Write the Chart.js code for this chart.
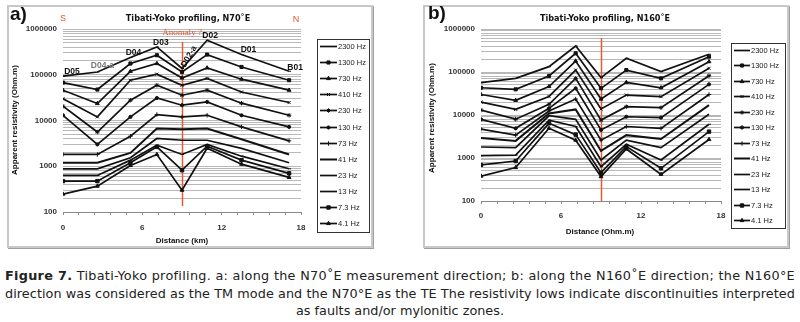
<!DOCTYPE html>
<html>
<head>
<meta charset="utf-8">
<script src="https://cdn.jsdelivr.net/npm/chart.js@4.4.1/dist/chart.umd.min.js"></script>
<style>
  body { margin: 0; width: 800px; height: 322px; background: #fff; position: relative; overflow: hidden; }
  .frame { position: absolute; top: 5px; width: 362px; height: 239px; border: 2px solid #c8c8c8; box-shadow: 1px 1px 0 #a0a0a0; background: #fff; }
  #frameA { left: 7px; }
  #frameB { left: 423px; }
  .frame canvas { position: absolute; left: 0; top: 0; }
  .txt { position: absolute; white-space: nowrap; color: #111; font-family: 'Liberation Sans', Arial, sans-serif; }
  .tag { font-weight: bold; font-size: 19px; line-height: 20px; }
  .title { font-weight: bold; font-size: 9px; line-height: 12px; text-align: center; width: 200px;
           font-family: 'Liberation Sans Narrow', 'DejaVu Sans Condensed', sans-serif; }
  .axt { font-weight: bold; font-size: 8px; line-height: 10px; text-align: center; width: 160px; }
  .rot { transform: rotate(-90deg); }
  #caption { position: absolute; left: 0; top: 267px; width: 800px; text-align: center; white-space: nowrap;
             font-family: 'DejaVu Sans', Verdana, sans-serif; font-size: 12.8px; line-height: 17.5px; color: #222; }
  #caption span { display: inline-block; }
</style>
</head>
<body>
<div class="frame" id="frameA"><canvas id="chartA" width="362" height="239"></canvas></div>
<div class="frame" id="frameB"><canvas id="chartB" width="362" height="239"></canvas></div>

<div class="txt tag" style="left:10px;top:4px">a)</div>
<div class="txt tag" style="left:428px;top:3px">b)</div>
<div class="txt title" style="left:88px;top:12px">Tibati-Yoko profiling, N70˚E</div>
<div class="txt title" style="left:505px;top:12px">Tibati-Yoko profiling, N160˚E</div>
<div class="txt axt rot" style="left:-65px;top:115px">Apparent resistivity (Ohm.m)</div>
<div class="txt axt rot" style="left:352px;top:113px">Apparent resistivity (Ohm.m)</div>
<div class="txt axt" style="left:102px;top:236px">Distance (km)</div>
<div class="txt axt" style="left:520px;top:227px">Distance (Ohm.m)</div>

<div id="caption"><span class="fit"><b>Figure 7.</b> Tibati-Yoko profiling. a: along the N70˚E measurement direction; b: along the N160˚E direction; the N160°E</span><br><span class="fit">direction was considered as the TM mode and the N70°E as the TE The resistivity lows indicate discontinuities interpreted</span><br><span>as faults and/or mylonitic zones.</span></div>

<script>
// station positions along the profile (km) and frequencies
const distKm = [0, 2.6, 5.1, 7.1, 9.0, 10.9, 13.5, 17.1];
const freqLabels = ['2300 Hz', '1300 Hz', '730 Hz', '410 Hz', '230 Hz', '130 Hz', '73 Hz', '41 Hz', '23 Hz', '13 Hz', '7.3 Hz', '4.1 Hz'];
const stationsA = ['D05', 'D04-a', 'D04', 'D03', 'D02-a', 'D02', 'D01', 'B01'];
const anomalyKm = 9.0;
const xTickLabels = [0, 6, 12, 18];
const yTickLabels = [100, 1000, 10000, 100000, 1000000];

// a) N70°E apparent resistivity (Ohm.m)
const a2300 = [93000, 115000, 238000, 405000, 137000, 567000, 276000, 119000];
const a1300 = [67500, 47500, 176000, 267000, 115000, 276000, 148000, 76000];
const a730 = [46000, 23500, 119000, 176000, 85000, 141000, 80000, 46000];
const a410 = [30000, 12000, 76000, 103000, 59000, 83000, 42000, 24700];
const a230 = [20500, 5600, 27800, 59000, 35700, 46000, 23900, 13000];
const a130 = [13000, 3000, 12000, 31000, 21600, 25500, 13000, 7250];
const a73 = [1810, 1810, 4540, 13500, 12000, 13000, 7250, 3590];
const a41 = [1190, 1190, 1960, 6700, 6460, 6700, 3900, 1810];
const a23 = [880, 880, 1530, 4050, 3700, 3700, 2450, 1190];
const a13 = [630, 630, 1360, 2890, 1810, 3000, 1660, 880];
const a7_3 = [473, 473, 1190, 2650, 820, 2750, 1360, 700];
const a4_1 = [246, 368, 1040, 1810, 300, 2480, 1110, 570];

// b) N160°E apparent resistivity (Ohm.m)
const b2300 = [56500, 71000, 133000, 403000, 74000, 208000, 102000, 258000];
const b1300 = [43000, 39500, 81000, 272000, 41700, 111000, 71000, 227000];
const b730 = [30000, 22000, 46000, 180000, 23500, 57500, 43000, 174000];
const b410 = [20000, 13500, 27000, 111000, 13800, 29000, 26700, 122000];
const b230 = [13000, 8000, 17700, 71000, 7600, 15600, 14800, 82000];
const b130 = [7900, 4900, 14300, 41700, 4500, 9100, 8700, 51600];
const b73 = [4700, 3400, 12400, 23500, 2600, 5400, 4900, 30000];
const b41 = [2900, 2500, 10900, 13500, 1460, 3400, 2770, 17000];
const b23 = [1800, 1740, 9600, 7900, 900, 2600, 1740, 10400];
const b13 = [1130, 1170, 7600, 5400, 630, 2080, 900, 6100];
const b7_3 = [690, 850, 6400, 3500, 455, 1840, 575, 4100];
const b4_1 = [380, 600, 4900, 2600, 370, 1620, 417, 2700];

// marker look per frequency (excel-ish defaults)
const markers = ['dash', 'rect', 'triangle', 'crossRot', 'star', 'circle', 'cross', false, false, 'dash', 'rect', 'triangle'];
const markerSize = [2, 2.2, 2.2, 2.2, 2.2, 1.6, 2.2, 0, 0, 2, 2.4, 2.2];

// log grid every 1..9 x 10^n, minor x ticks every 1.2 km
const yGrid = [];
for (let d = 100; d < 1e6; d *= 10) for (let m = 1; m < 10; m++) yGrid.push(m * d);
yGrid.push(1e6);
const xMinor = [];
for (let i = 0; i <= 15; i++) xMinor.push(Math.round(i * 12) / 10);

const tickFont = { family: "'Liberation Sans', Arial, sans-serif", size: 8, weight: 'bold' };

// stretch the two full caption lines to the page width like the original
document.querySelectorAll('#caption .fit').forEach(el => {
    const n = el.textContent.length;
    const w = el.getBoundingClientRect().width;
    el.style.letterSpacing = ((790 - w) / n).toFixed(3) + 'px';
});

function makeDatasets(series) {
    return series.map((vals, i) => ({
        label: freqLabels[i],
        data: vals.map((v, j) => ({ x: distKm[j], y: v })),
        borderColor: '#111',
        backgroundColor: '#111',
        borderWidth: i === 7 ? 2 : 1.7,
        pointStyle: markers[i],
        pointRadius: markerSize[i],
        pointBorderWidth: 1,
        tension: 0
    }));
}

function makeScales(yWidth, xHeight, xPad) {
    return {
        x: {
            type: 'linear', min: 0, max: 18,
            afterBuildTicks: s => { s.ticks = xMinor.map(v => ({ value: v })); },
            afterFit: s => { s.height = xHeight; },
            ticks: { autoSkip: false, maxRotation: 0, padding: xPad, font: tickFont, color: '#333',
                     callback: v => xTickLabels.includes(v) ? String(v) : '' },
            grid: { drawOnChartArea: false, drawTicks: true, tickLength: 3, color: '#8a8a8a' },
            border: { display: true, color: '#8a8a8a', width: 1 }
        },
        y: {
            type: 'logarithmic', min: 100, max: 1e6,
            afterBuildTicks: s => { s.ticks = yGrid.map(v => ({ value: v })); },
            afterFit: s => { s.width = yWidth; },
            ticks: { autoSkip: false, padding: 6, font: tickFont, color: '#333',
                     callback: v => yTickLabels.includes(v) ? String(v) : '' },
            grid: { color: '#b8b8b8', drawTicks: false },
            border: { display: false }
        }
    };
}

// boxed legend with line + marker samples
const boxLegend = {
    id: 'boxLegend',
    afterDraw(chart, args, o) {
        const ctx = chart.ctx;
        ctx.save();
        ctx.strokeStyle = '#333';
        ctx.lineWidth = 1;
        ctx.strokeRect(o.x + 0.5, o.y + 0.5, o.w, o.h);
        chart.data.datasets.forEach((ds, i) => {
            const y = Math.round(o.first + i * o.step) + 0.5;
            const x0 = o.x + 3, x1 = x0 + o.line;
            ctx.strokeStyle = '#111';
            ctx.fillStyle = '#111';
            ctx.lineWidth = ds.borderWidth;
            ctx.beginPath(); ctx.moveTo(x0, y); ctx.lineTo(x1, y); ctx.stroke();
            if (ds.pointRadius > 0) {
                ctx.lineWidth = 1;
                Chart.helpers.drawPoint(ctx, { pointStyle: ds.pointStyle, radius: ds.pointRadius, rotation: 0, borderWidth: 1 }, (x0 + x1) / 2, y);
            }
            ctx.fillStyle = '#222';
            ctx.font = "7.5px 'Liberation Sans', Arial, sans-serif";
            ctx.textBaseline = 'middle';
            ctx.fillText(ds.label, x1 + 1, y);
        });
        ctx.restore();
    }
};

// red anomaly marker + station names
const anomaly = {
    id: 'anomaly',
    beforeDatasetsDraw(chart, args, o) {
        const { ctx, chartArea: ca, scales: { x } } = chart;
        const px = Math.round(x.getPixelForValue(anomalyKm)) + 0.5;
        ctx.save();
        ctx.strokeStyle = '#e8572f';
        ctx.lineWidth = 1.5;
        ctx.beginPath();
        ctx.moveTo(px, ca.top + o.top);
        ctx.lineTo(px, ca.bottom - o.bottom);
        ctx.stroke();
        ctx.restore();
    },
    afterDatasetsDraw(chart, args, o) {
        if (!o.labels) return;
        const { ctx, chartArea: ca, scales: { x, y } } = chart;
        const top = chart.data.datasets[0].data;
        ctx.save();
        ctx.textAlign = 'center';
        ctx.textBaseline = 'middle';
        ctx.fillStyle = '#e8572f';
        ctx.font = "9px 'Liberation Serif', serif";
        ctx.fillText('Anomaly ?', x.getPixelForValue(anomalyKm), ca.top + 4);
        ctx.font = "9px 'Liberation Sans', Arial, sans-serif";
        ctx.fillText('S', ca.left, ca.top - 10);
        ctx.fillText('N', ca.right - 5, ca.top - 9);
        ctx.font = "bold 8.5px 'Liberation Sans', Arial, sans-serif";
        stationsA.forEach((name, i) => {
            const off = o.labels[i];
            const px = x.getPixelForValue(top[i].x) + off[0];
            const py = y.getPixelForValue(top[i].y) + off[1];
            ctx.fillStyle = off[2] || '#111';
            ctx.save();
            ctx.translate(px, py);
            ctx.rotate((off[3] || 0) * Math.PI / 180);
            ctx.fillText(name, 0, 0);
            ctx.restore();
        });
        ctx.restore();
    }
};

function makeChart(id, series, lay) {
    return new Chart(document.getElementById(id), {
        type: 'line',
        data: { datasets: makeDatasets(series) },
        options: {
            responsive: false,
            animation: false,
            devicePixelRatio: 1,
            layout: { padding: { left: 0, top: lay.top, right: lay.right, bottom: 0 } },
            scales: makeScales(lay.yWidth, lay.xHeight, lay.xPad),
            plugins: {
                legend: { display: false },
                tooltip: { enabled: false },
                boxLegend: lay.legend,
                anomaly: lay.anomaly
            }
        },
        plugins: [boxLegend, anomaly]
    });
}

makeChart('chartA', [a2300, a1300, a730, a410, a230, a130, a73, a41, a23, a13, a7_3, a4_1], {
    top: 22, right: 70, yWidth: 54, xHeight: 34, xPad: 8,
    legend: { x: 308, y: 32, w: 52, h: 193, first: 39, step: 16.1, line: 17 },
    anomaly: {
        top: 13, bottom: 6,
        labels: [[9, -5], [5, -6, '#777'], [3, -5], [4, -4], [7, -12, '#111', -60], [3, -5], [7, -5], [6, -4]]
    }
});

makeChart('chartB', [b2300, b1300, b730, b410, b230, b130, b73, b41, b23, b13, b7_3, b4_1], {
    top: 22, right: 66, yWidth: 56, xHeight: 45, xPad: 7,
    legend: { x: 306, y: 36, w: 54, h: 185, first: 43, step: 15.45, line: 16 },
    anomaly: { top: 9, bottom: 0 }
});
</script>
</body>
</html>
